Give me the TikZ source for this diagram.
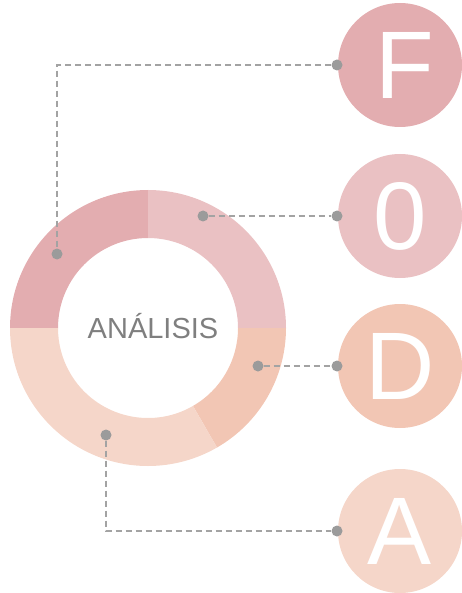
\documentclass[tikz,border=0pt]{standalone}
\usepackage{fontspec}
\setmainfont{Liberation Sans}
\usetikzlibrary{calc}

\definecolor{segF}{HTML}{E3ADB0}
\definecolor{segO}{HTML}{EAC1C3}
\definecolor{segD}{HTML}{F2C6B4}
\definecolor{segA}{HTML}{F5D6C9}
\definecolor{dotgray}{HTML}{9B9B9B}
\definecolor{linegray}{HTML}{A3A3A3}
\definecolor{labelgray}{HTML}{7F7F7F}

\tikzset{
  badge/.style={circle, minimum size=124pt, inner sep=0pt, text=white,
                font=\fontsize{96}{96}\selectfont},
  pin/.style={circle, fill=dotgray, minimum size=11pt, inner sep=0pt},
  link/.style={draw=linegray, line width=1.2pt, dash pattern=on 6pt off 4pt},
}

% one ring segment: colour, start angle, end angle (angles in the flipped frame)
\newcommand{\ringpart}[3]{%
  \fill[#1] ($(ctr)+(#2:138)$) arc[start angle=#2, end angle=#3, radius=138]
    -- ($(ctr)+(#3:90)$) arc[start angle=#3, end angle=#2, radius=90] -- cycle;}

\begin{document}
\begin{tikzpicture}[x=1pt, y=-1pt]
  \useasboundingbox (0,0) rectangle (462,593);

  % the ring
  \coordinate (ctr) at (148,328);
  \ringpart{segF}{-90}{-180}
  \ringpart{segO}{0}{-90}
  \ringpart{segD}{60}{0}
  \ringpart{segA}{180}{60}
  \node[text=labelgray, font=\fontsize{29}{29}\selectfont] (title) at (153,326) {ANÁLISIS};

  % the four letter badges
  \node[badge, fill=segF] (F) at (400,65) {\hspace{10pt}F};
  \node[badge, fill=segO] (O) at (400,216) {0};
  \node[badge, fill=segD] (D) at (400,366) {D};
  \node[badge, fill=segA] (A) at (400,531) {A};

  % pins on the ring
  \node[pin] (rF) at (57,254) {};
  \node[pin] (rO) at (203,216) {};
  \node[pin] (rD) at (258,366) {};
  \node[pin] (rA) at (106,435) {};

  % pins on the badges
  \node[pin] (bF) at (337,65) {};
  \node[pin] (bO) at (337,216) {};
  \node[pin] (bD) at (337,366) {};
  \node[pin] (bA) at (337,531) {};

  % dashed leaders
  \draw[link] (bF) -| (rF);
  \draw[link] (rO) -- (bO);
  \draw[link] (rD) -- (bD);
  \draw[link] (rA) |- (bA);
\end{tikzpicture}
\end{document}
